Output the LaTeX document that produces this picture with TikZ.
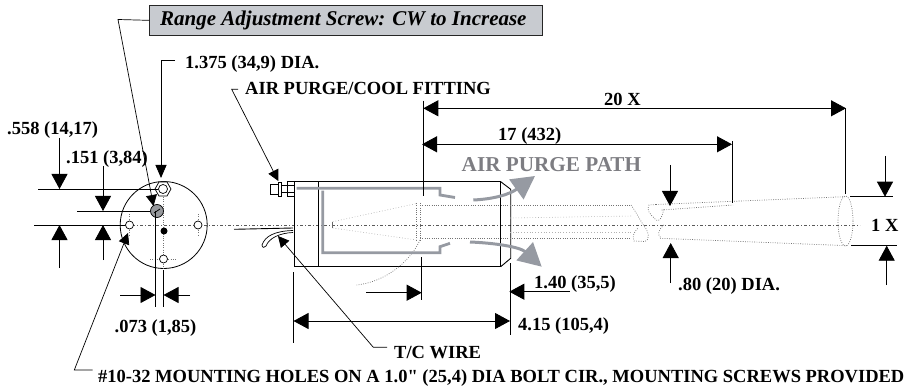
\documentclass[tikz,border=0pt]{standalone}
\usepackage{fontspec}
\setmainfont[Ligatures=TeXOff]{Liberation Serif}
\usetikzlibrary{arrows.meta}
\definecolor{purgegray}{RGB}{150,154,162}
\definecolor{boxgray}{RGB}{200,203,208}
\definecolor{pathtext}{RGB}{125,125,130}
\tikzset{
  x=1pt,y=-1pt,
  lbl/.style={anchor=base west,inner sep=0pt,font=\fontsize{18.5}{20}\selectfont\bfseries},
  dimline/.style={line width=.9pt,black},
  dimarrow/.style={line width=.9pt,black,-{Triangle[length=15pt,width=16pt]}},
  leader/.style={line width=.7pt,black,-{Triangle[length=11pt,width=11pt]}},
  outline/.style={line width=.9pt,black},
  purge/.style={line width=2.8pt,purgegray},
  purgearrow/.style={line width=3pt,purgegray,-{Triangle[length=23pt,width=24pt]}},
  centerline/.style={line width=.8pt,black!65,dash pattern=on 3pt off 2pt on 1pt off 2pt},
  dots/.style={line width=.7pt,black!55,dash pattern=on .8pt off 1.5pt},
  faint/.style={line width=.6pt,black!30,dash pattern=on .8pt off 2pt},
  hole/.style={circle,draw,line width=.7pt,minimum size=8pt,inner sep=0pt},
}
\begin{document}
\begin{tikzpicture}
\useasboundingbox (0,0) rectangle (909,387);
% ---- centre line
\draw[centerline] (84,225) -- (860,225);
% ---- end view
\node[circle,draw,line width=.8pt,minimum size=87pt,inner sep=0pt] (face) at (163.7,225) {};
\draw[dots] (163.5,183) -- (163.5,270);
\draw[dots] (150,259) -- (177,259);
\draw[dots] (129.5,214) -- (129.5,236);
\draw[dots] (198,214) -- (198,236);
\node[hole,fill=white] (holeL) at (129.5,225) {};
\node[hole,fill=white] (holeR) at (198,225) {};
\node[hole,fill=white] (holeB) at (163.5,259) {};
\draw[line width=.7pt,fill=white] (171,189) -- (167,196) -- (159,196) -- (155,189) -- (159,182) -- (167,182) -- cycle;
\node[circle,draw,line width=.7pt,minimum size=9pt,inner sep=0pt] (hex) at (163,189) {};
\node[circle,draw,line width=.7pt,fill=boxgray!75!black,minimum size=13pt,inner sep=0pt] (screw) at (157,211) {};
\draw[line width=.7pt] (154,213) -- (160,209);
\node[circle,fill=black,minimum size=7pt,inner sep=0pt] (dot) at (164,231) {};
% ---- end-view dimensions
\node[lbl] (d558) at (7,135) {.558 (14,17)};
\node[lbl] (d151) at (66,164) {.151 (3,84)};
\coordinate (a1) at (59.5,138); \coordinate (a1t) at (59.5,189);
\coordinate (a2) at (59.5,268); \coordinate (a2t) at (59.5,225);
\coordinate (a3) at (103,166);  \coordinate (a3t) at (103,211);
\coordinate (a4) at (103,260);  \coordinate (a4t) at (103,225);
\draw[dimarrow] (a1) -- (a1t);
\draw[dimarrow] (a2) -- (a2t);
\draw[dimarrow] (a3) -- (a3t);
\draw[dimarrow] (a4) -- (a4t);
\draw[dimline] (38,189) -- (hex.west);
\draw[dimline] (77,211) -- (screw.west);
\draw[dimline] (34,225) -- (holeL.west);
% .073
\draw[outline] (155.7,211) -- (155.7,307);
\draw[outline] (163.3,270) -- (163.3,307);
\coordinate (b1) at (120,295); \coordinate (b1t) at (155.5,295);
\coordinate (b2) at (190,295); \coordinate (b2t) at (163.5,295);
\draw[dimarrow] (b1) -- (b1t);
\draw[dimarrow] (b2) -- (b2t);
\node[lbl] (d073) at (114.5,332.7) {.073 (1,85)};
% ---- callouts
\node[draw=black!85,line width=1pt,fill=boxgray,minimum width=393pt,minimum height=30.3pt,inner sep=0pt,anchor=north west] (range) at (149.3,4.7) {};
\node[anchor=base west,inner sep=0pt,font=\fontsize{21}{23}\selectfont\bfseries\itshape] (rangetxt) at (160,26) {Range Adjustment Screw: CW to Increase};
\coordinate (r1) at (118,19.5);
\draw[leader] (range.west) -- (r1) -- (153.5,206);
\node[lbl] (d1375) at (185,68.3) {1.375 (34,9) DIA.};
\coordinate (c1) at (175,60.7); \coordinate (c2) at (161,60.7); \coordinate (c3) at (161,178);
\draw[line width=.9pt,-{Triangle[length=13pt,width=11pt]}] (c1) -- (c2) -- (c3);
\node[lbl] (fit) at (245,95) {AIR PURGE/COOL FITTING};
\coordinate (f1) at (238,89.3); \coordinate (f2) at (231.7,89.3); \coordinate (f3) at (278.3,181);
\draw[leader] (f1) -- (f2) -- (f3);
\node[lbl] (mount) at (98,382.7) {\#10-32 MOUNTING HOLES ON A 1.0" (25,4) DIA BOLT CIR., MOUNTING SCREWS PROVIDED};
\coordinate (m1) at (92.7,370); \coordinate (m2) at (74.3,370); \coordinate (m3) at (128,233);
\draw[leader] (m1) -- (m2) -- (m3);
\node[lbl] (tc) at (394,358) {T/C WIRE};
\coordinate (t1) at (387,347.3); \coordinate (t2) at (373.3,347.3); \coordinate (t3) at (278,236);
\draw[leader] (t1) -- (t2) -- (t3);
% ---- side view: body
\draw[outline] (294,181.7) rectangle (500.7,266.7);
\draw[outline] (318.7,181.7) -- (318.7,266.7);
\draw[outline] (500.7,181.7) -- (510.7,189.3) -- (510.7,258.3) -- (500.7,266.7);
\draw[line width=.7pt] (270.7,184) rectangle (278,194);
\draw[line width=.7pt] (278,182.3) rectangle (281,196);
\draw[line width=.7pt] (281,185) rectangle (287.7,192.7);
\draw[line width=.7pt] (287.7,181) rectangle (294,196.7);
\draw[line width=.7pt] (287.7,185) -- (294,185) (287.7,192.7) -- (294,192.7);
% wire
\draw[outline] (234,229.3) -- (293,228);
\draw[line width=.7pt] (293,230.5) .. controls (275,231) and (265,236) .. (262,245) .. controls (262,248) and (265,248) .. (266,246) .. controls (269,238) and (280,233) .. (293,232.5);
% dotted interior
\draw[faint] (332.7,221.7) -- (416.7,203.5);
\draw[faint] (332.7,228) -- (416.7,240);
\draw[line width=1pt,black!60] (332.7,222) -- (332.7,228);
\draw[dots] (416,203) -- (416,240);
\draw[dots] (420,203) -- (420,240);
\draw[dots] (420,240) .. controls (410,262) and (385,282) .. (356.7,285);
\draw[dots] (420,205) -- (631,205);
\draw[dots] (420,238) -- (631,238);
\draw[faint] (510,218) -- (632,216);
\draw[faint] (510,232) -- (632,232);
% break
\draw[dots] (631,205) .. controls (636,212) and (640,220) .. (644,226) .. controls (649,232) and (650,240) .. (645,241.5) -- (634,241) .. controls (632,236) and (634,232) .. (638,228);
\draw[dots] (656,204.5) -- (649,205) .. controls (646,210) and (650,214) .. (655,219) .. controls (660,224) and (662,216) .. (664,209);
\draw[dots] (664,225) .. controls (658,230) and (657,235) .. (661,238);
\draw[dots] (656,204.5) -- (845,196.7);
\draw[dots] (661.7,210) -- (733,205);
\draw[dots] (660,238.3) -- (848,245.7);
\draw[dots] (845.5,221) ellipse [x radius=7.5,y radius=25];
% purge path
\draw[purge] (296.7,188.3) -- (440,188.3) -- (440,195) -- (455,197.5);
\draw[purge] (322.7,190.7) -- (322.7,252.7) -- (440,252.7) -- (440,246.7) -- (450,243.3);
\coordinate (p1) at (473.3,200); \coordinate (p1t) at (535,176);
\coordinate (p2) at (470,242); \coordinate (p2t) at (541.7,266.7);
\draw[purgearrow] (p1) .. controls (495,199) and (510,194) .. (p1t);
\draw[purgearrow] (p2) .. controls (495,243) and (520,247) .. (p2t);
\node[anchor=base west,inner sep=0pt,text=pathtext,font=\fontsize{21.2}{23}\selectfont\bfseries] (pathlbl) at (461.5,171.7) {AIR PURGE PATH};
% ---- side view dimensions
\draw[outline] (423.3,100.7) -- (423.3,196);
\draw[outline] (845,108) -- (845,194);
\draw[outline] (732,141) -- (732,203);
\coordinate (e1) at (423.3,108.3); \coordinate (e2) at (846,108.3);
\coordinate (g1) at (422,144.3); \coordinate (g2) at (732,144.3);
\draw[dimarrow,{Triangle[length=15pt,width=16pt]}-{Triangle[length=15pt,width=16pt]}] (e1) -- (e2);
\draw[dimarrow,{Triangle[length=15pt,width=16pt]}-{Triangle[length=15pt,width=16pt]}] (g1) -- (g2);
\node[lbl] (d20) at (604,105.7) {20 X};
\node[lbl] (d17) at (498,141) {17 (432)};
% 1.40
\draw[outline] (421.7,257) -- (421.7,300);
\coordinate (h1) at (366,292.7); \coordinate (h1t) at (421.7,292.7);
\draw[dimarrow] (h1) -- (h1t);
\coordinate (h2) at (570,291.7); \coordinate (h2t) at (509.3,291.7);
\draw[dimarrow] (h2) -- (h2t);
\node[lbl] (d140) at (534,288.3) {1.40 (35,5)};
% 4.15
\draw[outline] (293.3,272) -- (293.3,342.7);
\draw[outline] (510,263) -- (510,335);
\coordinate (i1) at (293.5,321); \coordinate (i2) at (510,321);
\draw[dimarrow,{Triangle[length=15pt,width=16pt]}-{Triangle[length=15pt,width=16pt]}] (i1) -- (i2);
\node[lbl] (d415) at (518,330) {4.15 (105,4)};
% 1X
\draw[outline] (850,196.7) -- (893,196.7);
\draw[outline] (851,245.7) -- (897,245.7);
\coordinate (j1) at (885,156); \coordinate (j1t) at (885,196.7);
\coordinate (j2) at (886.7,285); \coordinate (j2t) at (886.7,245.7);
\draw[dimarrow] (j1) -- (j1t);
\draw[dimarrow] (j2) -- (j2t);
\node[lbl] (d1x) at (871,231) {1 X};
% .80
\coordinate (k1) at (670,165); \coordinate (k1t) at (670,206);
\coordinate (k2) at (670.7,283); \coordinate (k2t) at (670.7,243);
\draw[dimarrow] (k1) -- (k1t);
\draw[dimarrow] (k2) -- (k2t);
\node[lbl] (d80) at (678,290) {.80 (20) DIA.};
\end{tikzpicture}
\end{document}
